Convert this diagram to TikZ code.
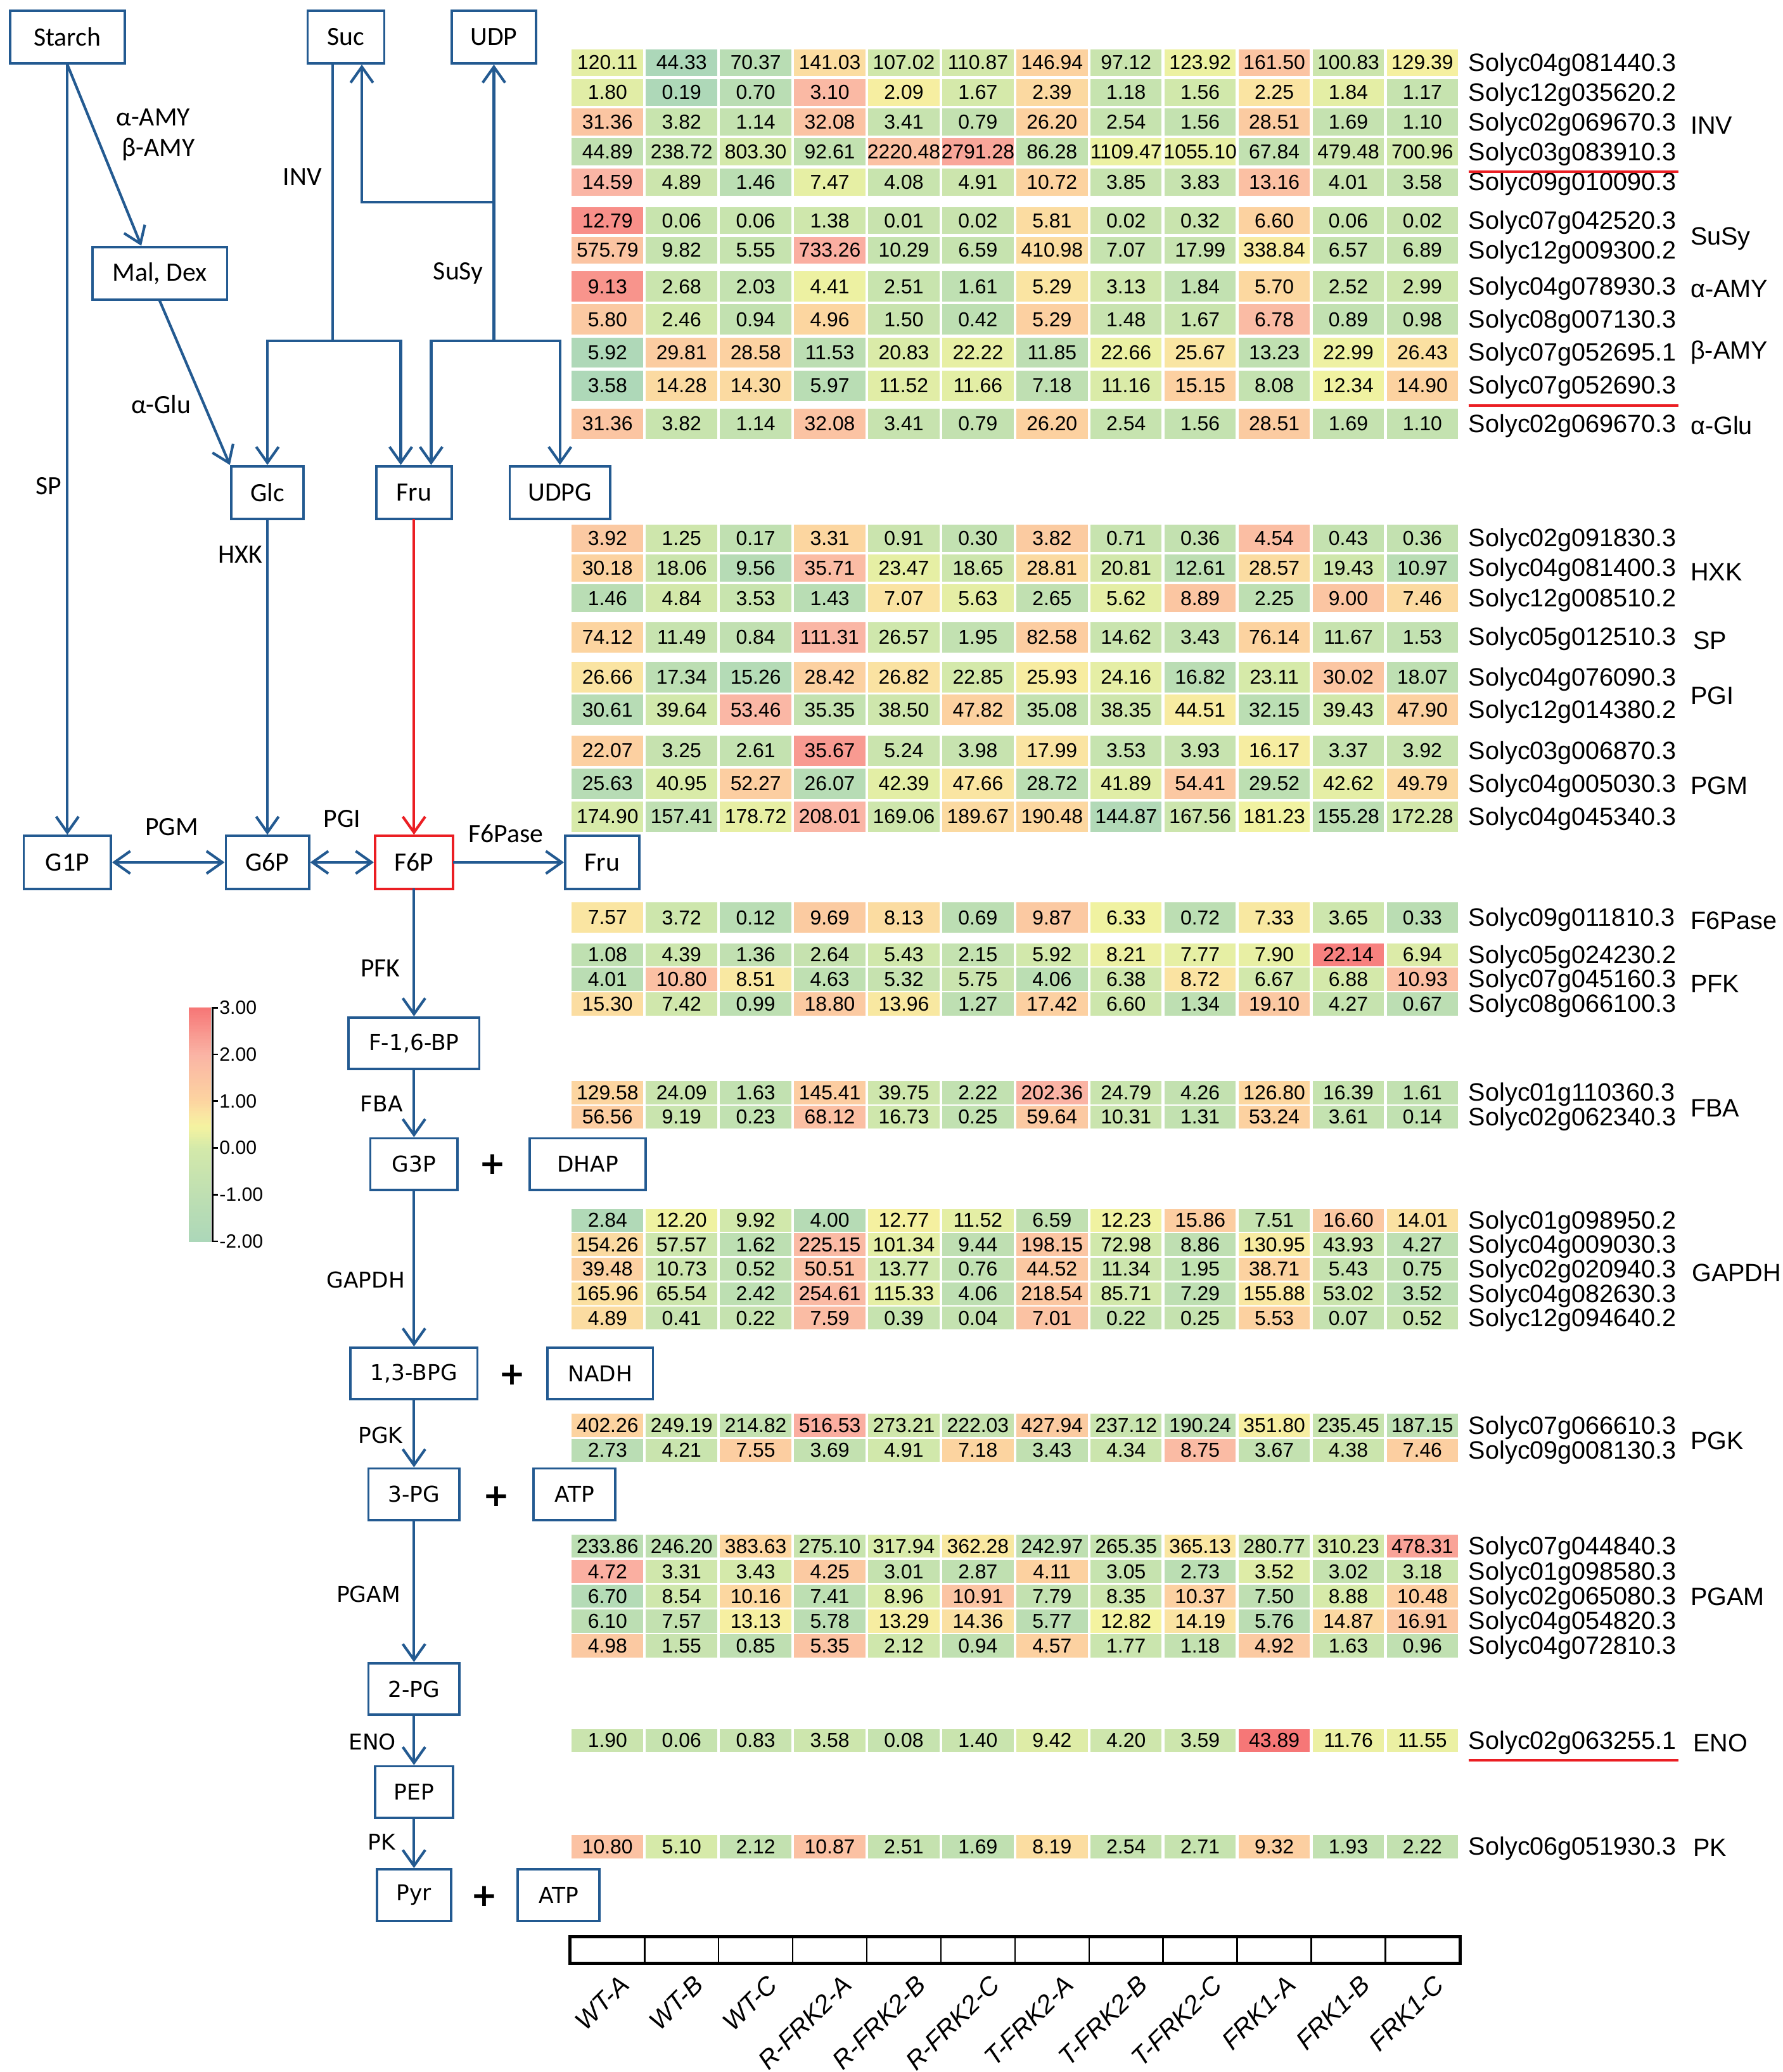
\documentclass[tikz,border=0pt]{standalone}
\usepackage{fontspec}
\setmainfont{Liberation Sans}
\newfontfamily\calfamily{Carlito}
\newfontfamily\verfamily{DejaVu Sans}
\usetikzlibrary{arrows.meta,calc}
\definecolor{pblue}{RGB}{35,90,145}
\definecolor{pred}{RGB}{235,30,35}

\ExplSyntaxOn
\fp_new:N \g_hm_mean_fp
\fp_new:N \g_hm_sd_fp
\fp_new:N \l_hm_sum_fp
\fp_new:N \l_hm_sq_fp
\fp_new:N \l_hm_z_fp
\fp_new:N \l_hm_t_fp
\int_new:N \l_hm_k_int
\clist_const:Nn \c_hm_z_clist { -2, -1, 0, 0.45, 0.75, 1, 2, 3 }
\clist_const:Nn \c_hm_r_clist { 172, 190, 212, 244, 250, 252, 250, 246 }
\clist_const:Nn \c_hm_g_clist { 215, 223, 233, 243, 228, 212, 180, 118 }
\clist_const:Nn \c_hm_b_clist { 185, 178, 170, 160, 162, 160, 165, 118 }
\cs_new_protected:Npn \hmstats #1
 {
  \fp_zero:N \l_hm_sum_fp
  \fp_zero:N \l_hm_sq_fp
  \clist_map_inline:nn {#1}
   {
    \fp_add:Nn \l_hm_sum_fp {##1}
    \fp_add:Nn \l_hm_sq_fp { (##1)*(##1) }
   }
  \fp_gset:Nn \g_hm_mean_fp { \l_hm_sum_fp / 12 }
  \fp_gset:Nn \g_hm_sd_fp { sqrt( ( \l_hm_sq_fp - 12 * (\g_hm_mean_fp) * (\g_hm_mean_fp) ) / 11 ) }
 }
\cs_new:Npn \hmmixcomp #1
 {
  \fp_eval:n
   {
    round( ( \clist_item:Nn #1 { \l_hm_k_int } ) * ( 1 - \l_hm_t_fp )
     + ( \clist_item:Nn #1 { \l_hm_k_int + 1 } ) * \l_hm_t_fp )
   }
 }
\cs_new_protected:Npn \hmsetz #1
 {
  \fp_set:Nn \l_hm_z_fp { max(-2, min(3, #1)) }
  \int_set:Nn \l_hm_k_int {1}
  \int_step_inline:nnn {2} {7}
   {
    \fp_compare:nNnT { \l_hm_z_fp } > { \clist_item:Nn \c_hm_z_clist {##1} }
     { \int_set:Nn \l_hm_k_int {##1} }
   }
  \fp_set:Nn \l_hm_t_fp
   {
    ( \l_hm_z_fp - ( \clist_item:Nn \c_hm_z_clist { \l_hm_k_int } ) )
    / ( ( \clist_item:Nn \c_hm_z_clist { \l_hm_k_int + 1 } )
      - ( \clist_item:Nn \c_hm_z_clist { \l_hm_k_int } ) )
   }
  \use:x
   {
    \exp_not:N \definecolor {cellc} {RGB}
     { \hmmixcomp \c_hm_r_clist , \hmmixcomp \c_hm_g_clist , \hmmixcomp \c_hm_b_clist }
   }
 }
\cs_new_protected:Npn \hmcell #1
 { \hmsetz { ( (#1) - \g_hm_mean_fp ) / \g_hm_sd_fp } }
\ExplSyntaxOff

\newcommand\hmfcal{\calfamily\fontsize{20}{24}\selectfont}
\newcommand\hmfver{\verfamily\fontsize{16.5}{20}\selectfont}
\newcommand\hmfplus{\verfamily\bfseries\fontsize{24}{28}\selectfont}
\newcommand\hmfnum{\fontsize{15.3}{18}\selectfont}
\newcommand\hmfgene{\fontsize{19}{22}\selectfont}
\newcommand\hmfsamp{\itshape\fontsize{19.5}{22}\selectfont}
\newcommand\hmfcb{\fontsize{14.5}{17}\selectfont}

\tikzset{
  pbox/.style={draw=pblue, line width=1.8pt, fill=white, minimum height=40pt, inner sep=0pt, font=\hmfcal},
  lbox/.style={draw=pblue, line width=1.8pt, fill=white, minimum height=39pt, inner sep=0pt, font=\hmfver},
  conn/.style={draw=pblue, line width=2pt, line cap=rect},
  flow/.style={conn, -{Straight Barb[length=12pt,width=17pt]}},
  flowtwo/.style={conn, {Straight Barb[length=12pt,width=17pt]}-{Straight Barb[length=12pt,width=17pt]}},
  flowred/.style={flow, draw=pred},
  elab/.style={inner sep=0pt, font=\hmfcal},
  llab/.style={inner sep=0pt, font=\hmfver},
  plus/.style={inner sep=0pt, font=\hmfplus},
  numtxt/.style={inner sep=0pt, font=\hmfnum},
  genetxt/.style={inner sep=0pt, anchor=west, font=\hmfgene},
  grp/.style={inner sep=0pt, anchor=west, font=\hmfgene},
  uline/.style={draw=pred, line width=1.8pt},
  sbox/.style={draw=black, line width=1.2pt, minimum width=56.1pt, minimum height=19pt, inner sep=0pt},
  slabel/.style={inner sep=0pt, font=\hmfsamp, rotate=45, anchor=north east},
  cbl/.style={inner sep=0pt, anchor=west, font=\hmfcb},
}

% #1 id, #2 y centre, #3 cell height, #4 values, #5 gene
\newcommand\hmrow[5]{%
  \hmstats{#4}%
  \foreach \v [count=\i] in {#4} {%
    \hmcell{\v}%
    \fill[cellc] ({433+56.1*(\i-1)}, {#2-#3/2}) rectangle ++(54,#3);
    \node[numtxt] (c#1-\i) at ({432+56.1*(\i-0.5)}, #2) {\v};
  }%
  \node[genetxt] (g#1) at (1112, #2+1.5) {#5};
}

\begin{document}
\begin{tikzpicture}[x=1pt,y=-1pt]
\useasboundingbox (0,0) rectangle (1350,1569);
\fill[white] (0,0) rectangle (1350,1569);

% ---------------- heat map ----------------
\hmrow{1}{47.5}{20.5}{120.11,44.33,70.37,141.03,107.02,110.87,146.94,97.12,123.92,161.50,100.83,129.39}{Solyc04g081440.3}
\hmrow{2}{70}{20.5}{1.80,0.19,0.70,3.10,2.09,1.67,2.39,1.18,1.56,2.25,1.84,1.17}{Solyc12g035620.2}
\hmrow{3}{92.5}{20.5}{31.36,3.82,1.14,32.08,3.41,0.79,26.20,2.54,1.56,28.51,1.69,1.10}{Solyc02g069670.3}
\hmrow{4}{115}{20.5}{44.89,238.72,803.30,92.61,2220.48,2791.28,86.28,1109.47,1055.10,67.84,479.48,700.96}{Solyc03g083910.3}
\hmrow{5}{138}{20.5}{14.59,4.89,1.46,7.47,4.08,4.91,10.72,3.85,3.83,13.16,4.01,3.58}{Solyc09g010090.3}
\hmrow{6}{167}{20.5}{12.79,0.06,0.06,1.38,0.01,0.02,5.81,0.02,0.32,6.60,0.06,0.02}{Solyc07g042520.3}
\hmrow{7}{189.5}{20.5}{575.79,9.82,5.55,733.26,10.29,6.59,410.98,7.07,17.99,338.84,6.57,6.89}{Solyc12g009300.2}
\hmrow{8}{217}{23}{9.13,2.68,2.03,4.41,2.51,1.61,5.29,3.13,1.84,5.70,2.52,2.99}{Solyc04g078930.3}
\hmrow{9}{242}{23}{5.80,2.46,0.94,4.96,1.50,0.42,5.29,1.48,1.67,6.78,0.89,0.98}{Solyc08g007130.3}
\hmrow{10}{267}{23}{5.92,29.81,28.58,11.53,20.83,22.22,11.85,22.66,25.67,13.23,22.99,26.43}{Solyc07g052695.1}
\hmrow{11}{292}{23}{3.58,14.28,14.30,5.97,11.52,11.66,7.18,11.16,15.15,8.08,12.34,14.90}{Solyc07g052690.3}
\hmrow{12}{321}{23}{31.36,3.82,1.14,32.08,3.41,0.79,26.20,2.54,1.56,28.51,1.69,1.10}{Solyc02g069670.3}
\hmrow{13}{407.5}{20.8}{3.92,1.25,0.17,3.31,0.91,0.30,3.82,0.71,0.36,4.54,0.43,0.36}{Solyc02g091830.3}
\hmrow{14}{430}{20.8}{30.18,18.06,9.56,35.71,23.47,18.65,28.81,20.81,12.61,28.57,19.43,10.97}{Solyc04g081400.3}
\hmrow{15}{453}{20.8}{1.46,4.84,3.53,1.43,7.07,5.63,2.65,5.62,8.89,2.25,9.00,7.46}{Solyc12g008510.2}
\hmrow{16}{482.5}{23}{74.12,11.49,0.84,111.31,26.57,1.95,82.58,14.62,3.43,76.14,11.67,1.53}{Solyc05g012510.3}
\hmrow{17}{512.8}{23}{26.66,17.34,15.26,28.42,26.82,22.85,25.93,24.16,16.82,23.11,30.02,18.07}{Solyc04g076090.3}
\hmrow{18}{537.6}{23}{30.61,39.64,53.46,35.35,38.50,47.82,35.08,38.35,44.51,32.15,39.43,47.90}{Solyc12g014380.2}
\hmrow{19}{568.5}{23}{22.07,3.25,2.61,35.67,5.24,3.98,17.99,3.53,3.93,16.17,3.37,3.92}{Solyc03g006870.3}
\hmrow{20}{593.4}{23}{25.63,40.95,52.27,26.07,42.39,47.66,28.72,41.89,54.41,29.52,42.62,49.79}{Solyc04g005030.3}
\hmrow{21}{618.3}{23}{174.90,157.41,178.72,208.01,169.06,189.67,190.48,144.87,167.56,181.23,155.28,172.28}{Solyc04g045340.3}
\hmrow{22}{694.8}{23}{7.57,3.72,0.12,9.69,8.13,0.69,9.87,6.33,0.72,7.33,3.65,0.33}{Solyc09g011810.3}
\hmrow{23}{723}{17.5}{1.08,4.39,1.36,2.64,5.43,2.15,5.92,8.21,7.77,7.90,22.14,6.94}{Solyc05g024230.2}
\hmrow{24}{741.6}{17.5}{4.01,10.80,8.51,4.63,5.32,5.75,4.06,6.38,8.72,6.67,6.88,10.93}{Solyc07g045160.3}
\hmrow{25}{760.2}{17.5}{15.30,7.42,0.99,18.80,13.96,1.27,17.42,6.60,1.34,19.10,4.27,0.67}{Solyc08g066100.3}
\hmrow{26}{827.4}{17.5}{129.58,24.09,1.63,145.41,39.75,2.22,202.36,24.79,4.26,126.80,16.39,1.61}{Solyc01g110360.3}
\hmrow{27}{845.9}{17.5}{56.56,9.19,0.23,68.12,16.73,0.25,59.64,10.31,1.31,53.24,3.61,0.14}{Solyc02g062340.3}
\hmrow{28}{924}{17.2}{2.84,12.20,9.92,4.00,12.77,11.52,6.59,12.23,15.86,7.51,16.60,14.01}{Solyc01g098950.2}
\hmrow{29}{942.5}{17.2}{154.26,57.57,1.62,225.15,101.34,9.44,198.15,72.98,8.86,130.95,43.93,4.27}{Solyc04g009030.3}
\hmrow{30}{961}{17.2}{39.48,10.73,0.52,50.51,13.77,0.76,44.52,11.34,1.95,38.71,5.43,0.75}{Solyc02g020940.3}
\hmrow{31}{979.6}{17.2}{165.96,65.54,2.42,254.61,115.33,4.06,218.54,85.71,7.29,155.88,53.02,3.52}{Solyc04g082630.3}
\hmrow{32}{998.2}{17.2}{4.89,0.41,0.22,7.59,0.39,0.04,7.01,0.22,0.25,5.53,0.07,0.52}{Solyc12g094640.2}
\hmrow{33}{1079.4}{17.5}{402.26,249.19,214.82,516.53,273.21,222.03,427.94,237.12,190.24,351.80,235.45,187.15}{Solyc07g066610.3}
\hmrow{34}{1098.2}{17.5}{2.73,4.21,7.55,3.69,4.91,7.18,3.43,4.34,8.75,3.67,4.38,7.46}{Solyc09g008130.3}
\hmrow{35}{1170.8}{17.5}{233.86,246.20,383.63,275.10,317.94,362.28,242.97,265.35,365.13,280.77,310.23,478.31}{Solyc07g044840.3}
\hmrow{36}{1190}{17.5}{4.72,3.31,3.43,4.25,3.01,2.87,4.11,3.05,2.73,3.52,3.02,3.18}{Solyc01g098580.3}
\hmrow{37}{1208.7}{17.5}{6.70,8.54,10.16,7.41,8.96,10.91,7.79,8.35,10.37,7.50,8.88,10.48}{Solyc02g065080.3}
\hmrow{38}{1227.5}{17.5}{6.10,7.57,13.13,5.78,13.29,14.36,5.77,12.82,14.19,5.76,14.87,16.91}{Solyc04g054820.3}
\hmrow{39}{1246.3}{17.5}{4.98,1.55,0.85,5.35,2.12,0.94,4.57,1.77,1.18,4.92,1.63,0.96}{Solyc04g072810.3}
\hmrow{40}{1318}{17.5}{1.90,0.06,0.83,3.58,0.08,1.40,9.42,4.20,3.59,43.89,11.76,11.55}{Solyc02g063255.1}
\hmrow{41}{1398.4}{17.5}{10.80,5.10,2.12,10.87,2.51,1.69,8.19,2.54,2.71,9.32,1.93,2.22}{Solyc06g051930.3}

% underlines
\draw[uline] ([yshift=-13.5pt]g4.west) -- ++(159,0);
\draw[uline] ([yshift=-13.5pt]g11.west) -- ++(159,0);
\draw[uline] ([yshift=-13.5pt]g40.west) -- ++(159,0);

% group labels
\node[grp] (tINV) at (1280,95) {INV};
\node[grp] (tSuSy) at (1280,181) {SuSy};
\node[grp] (tAAMY) at (1280,219) {α-AMY};
\node[grp] (tBAMY) at (1280,267) {β-AMY};
\node[grp] (tAGlu) at (1280,322) {α-Glu};
\node[grp] (tHXK) at (1280,433) {HXK};
\node[grp] (tSP) at (1282,485) {SP};
\node[grp] (tPGI) at (1280,527) {PGI};
\node[grp] (tPGM) at (1280,595) {PGM};
\node[grp] (tF6P) at (1280,697) {F6Pase};
\node[grp] (tPFK) at (1280,745) {PFK};
\node[grp] (tFBA) at (1280,839) {FBA};
\node[grp] (tGAPDH) at (1281,964) {GAPDH};
\node[grp] (tPGK) at (1280,1091) {PGK};
\node[grp] (tPGAM) at (1280,1209) {PGAM};
\node[grp] (tENO) at (1282,1320) {ENO};
\node[grp] (tPK) at (1282,1399) {PK};

% sample boxes and labels
\foreach \lab [count=\i] in {WT-A,WT-B,WT-C,R-FRK2-A,R-FRK2-B,R-FRK2-C,T-FRK2-A,T-FRK2-B,T-FRK2-C,FRK1-A,FRK1-B,FRK1-C} {
  \node[sbox] (s\i) at ({432+56.1*(\i-0.5)}, 1476.5) {};
  \node[slabel] (sl\i) at ([xshift=8pt,yshift=-8pt]s\i.south) {\lab};
}
\draw[line width=2.4pt] (s1.north west) rectangle (s12.south east);

% colour bar
\foreach \k in {0,...,99} {
  \hmsetz{-2+0.05*(\k+0.5)}
  \fill[cellc] (143,{940-1.77*\k+0.3}) rectangle (160,{940-1.77*(\k+1)-0.3});
}
\draw[black, line width=1.3pt] (165,763) -- (161,763) -- (161,940) -- (165,940);
\foreach \yy/\tx [count=\j] in {763/3.00, 798.4/2.00, 833.8/1.00, 869.2/0.00, 904.6/-1.00, 940/-2.00} {
  \draw[black, line width=1.3pt] (161,\yy) -- (165,\yy);
  \node[cbl] (cb\j) at (166,\yy) {\tx};
}

% ---------------- pathway ----------------
\node[pbox, minimum width=87pt] (Starch) at (51,28) {Starch};
\node[pbox, minimum width=58pt] (Suc) at (262,28) {Suc};
\node[pbox, minimum width=64pt] (UDP) at (374,28) {UDP};
\node[pbox, minimum width=102pt] (MalDex) at (121,207) {Mal, Dex};
\node[pbox, minimum width=55pt] (Glc) at (202.5,373) {Glc};
\node[pbox, minimum width=57pt] (Fru) at (313.5,373) {Fru};
\node[pbox, minimum width=76pt] (UDPG) at (424,373) {UDPG};
\node[pbox, minimum width=66pt] (G1P) at (51,653) {G1P};
\node[pbox, minimum width=63pt] (G6P) at (202.5,653) {G6P};
\node[pbox, draw=pred, minimum width=59pt] (F6P) at (313.5,653) {F6P};
\node[pbox, minimum width=56pt] (Fru2) at (456,653) {Fru};

\node[lbox, minimum width=99pt] (F16BP) at (313.5,790) {F-1,6-BP};
\node[lbox, minimum width=66pt] (G3P) at (313.5,881.5) {G3P};
\node[lbox, minimum width=88pt] (DHAP) at (445,881.5) {DHAP};
\node[lbox, minimum width=96pt] (BPG) at (313.5,1040) {1,3-BPG};
\node[lbox, minimum width=80pt] (NADH) at (454.5,1040) {NADH};
\node[lbox, minimum width=69pt] (PGc) at (313.5,1131.5) {3-PG};
\node[lbox, minimum width=62pt] (ATPa) at (435,1131.5) {ATP};
\node[lbox, minimum width=69pt] (PGb) at (313.5,1279) {2-PG};
\node[lbox, minimum width=59pt] (PEP) at (313.5,1357) {PEP};
\node[lbox, minimum width=56pt] (Pyr) at (313.5,1435) {Pyr};
\node[lbox, minimum width=62pt] (ATPb) at (423,1435) {ATP};

\node[plus] (p1) at (373,882) {+};
\node[plus] (p2) at (388,1041) {+};
\node[plus] (p3) at (376,1133) {+};
\node[plus] (p4) at (367,1436) {+};

% enzyme labels
\node[elab] (eAAMY) at (116,89) {α-AMY};
\node[elab] (eBAMY) at (120,113) {β-AMY};
\node[elab] (eINV) at (229,134) {INV};
\node[elab] (eSuSy) at (347,207) {SuSy};
\node[elab] (eAGlu) at (122,306) {α-Glu};
\node[elab] (eSP) at (37,368) {SP};
\node[elab] (eHXK) at (182,420) {HXK};
\node[elab] (ePGM) at (130,626) {PGM};
\node[elab] (ePGI) at (259,620) {PGI};
\node[elab] (eF6Pase) at (383,631) {F6Pase};
\node[elab] (ePFK) at (288,733) {PFK};
\node[llab] (eFBA) at (289,836) {FBA};
\node[llab] (eGAPDH) at (277,969) {GAPDH};
\node[llab] (ePGK) at (288,1087) {PGK};
\node[llab] (ePGAM) at (279,1207) {PGAM};
\node[llab] (eENO) at (282,1319) {ENO};
\node[llab] (ePK) at (289,1395) {PK};

% connectors
\coordinate (invj) at (252,258);
\coordinate (fruL) at ([xshift=-10pt]Fru.north);
\coordinate (fruR) at ([xshift=13pt]Fru.north);
\coordinate (sucR) at ([xshift=12pt]Suc.south);
\coordinate (retj) at (374,153);

\draw[flow] (Starch.south) -- (G1P.north);
\draw[flow] (Starch.south) -- ([xshift=-14pt]MalDex.north);
\draw[flow] (MalDex.south) -- (Glc.north west);

\draw[conn] (Suc.south -| invj) -- (invj);
\draw[conn] (Glc.north |- invj) -- (fruL |- invj);
\draw[flow] (Glc.north |- invj) -- (Glc.north);
\draw[flow] (fruL |- invj) -- (fruL);

\draw[flow] (UDP.south |- invj) -- (UDP.south);
\draw[flow] (retj) -| (sucR);
\draw[conn] (fruR |- invj) -- (UDPG.north |- invj);
\draw[flow] (fruR |- invj) -- (fruR);
\draw[flow] (UDPG.north |- invj) -- (UDPG.north);

\draw[flow] (Glc.south) -- (G6P.north);
\draw[flowred] (Fru.south) -- (F6P.north);
\draw[flowtwo] (G1P.east) -- (G6P.west);
\draw[flowtwo] (G6P.east) -- (F6P.west);
\draw[flow] (F6P.east) -- (Fru2.west);
\draw[flow] (F6P.south) -- (F16BP.north);
\draw[flow] (F16BP.south) -- (G3P.north);
\draw[flow] (G3P.south) -- (BPG.north);
\draw[flow] (BPG.south) -- (PGc.north);
\draw[flow] (PGc.south) -- (PGb.north);
\draw[flow] (PGb.south) -- (PEP.north);
\draw[flow] (PEP.south) -- (Pyr.north);
\end{tikzpicture}
\end{document}
